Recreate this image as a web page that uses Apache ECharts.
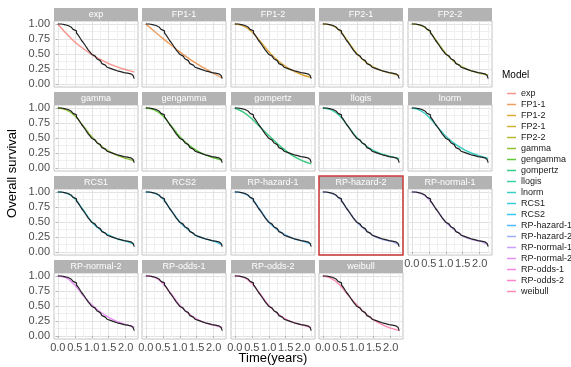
<!DOCTYPE html>
<html>
<head>
<meta charset="utf-8">
<script src="https://cdn.jsdelivr.net/npm/echarts@6/dist/echarts.min.js"></script>
<style>
  html, body { margin: 0; padding: 0; background: #fff; }
  #chart { width: 571px; height: 367px; }
</style>
</head>
<body>
<div id="chart"></div>
<script>
// models, in facet / legend order
const models = ['exp', 'FP1-1', 'FP1-2', 'FP2-1', 'FP2-2', 'gamma', 'gengamma', 'gompertz', 'llogis', 'lnorm',
  'RCS1', 'RCS2', 'RP-hazard-1', 'RP-hazard-2', 'RP-normal-1', 'RP-normal-2', 'RP-odds-1', 'RP-odds-2', 'weibull']

// Kaplan-Meier estimate (black line, same in every facet)
const kmTime = [0, 0.05, 0.1, 0.15, 0.2, 0.25, 0.3, 0.35, 0.4, 0.45, 0.5, 0.55, 0.6, 0.65, 0.7, 0.75, 0.8, 0.85, 0.9, 0.95,
  1.0, 1.05, 1.1, 1.15, 1.2, 1.25, 1.3, 1.35, 1.4, 1.45, 1.5, 1.55, 1.6, 1.65, 1.7, 1.75, 1.8, 1.85, 1.9, 1.95,
  2.0, 2.05, 2.1, 2.15, 2.18, 2.22, 2.25]
const kmSurv = [1, 1, 0.995, 0.99, 0.985, 0.975, 0.96, 0.945, 0.93, 0.91, 0.885, 0.85, 0.815, 0.77, 0.725, 0.69, 0.65, 0.605, 0.565, 0.53,
  0.495, 0.465, 0.445, 0.42, 0.39, 0.365, 0.34, 0.315, 0.3, 0.28, 0.26, 0.245, 0.24, 0.225, 0.22, 0.21, 0.205, 0.195, 0.19, 0.185,
  0.18, 0.175, 0.17, 0.165, 0.14, 0.115, 0.09]

// fitted survival of each model, at modelTime
const modelTime = [0, 0.25, 0.5, 0.75, 1.0, 1.25, 1.5, 1.75, 2.0, 2.25]
const expSurv = [1.00, 0.84, 0.70, 0.59, 0.49, 0.41, 0.34, 0.285, 0.24, 0.20]
const fp11Surv = [1.00, 0.88, 0.76, 0.645, 0.535, 0.43, 0.34, 0.255, 0.175, 0.10]
const fp12Surv = [1.00, 0.97, 0.87, 0.71, 0.54, 0.40, 0.29, 0.21, 0.15, 0.11]
const fp21Surv = [1.00, 0.98, 0.89, 0.70, 0.51, 0.37, 0.28, 0.22, 0.18, 0.14]
const fp22Surv = [1.00, 0.98, 0.89, 0.70, 0.51, 0.37, 0.28, 0.22, 0.18, 0.15]
const gammaSurv = [1.00, 0.97, 0.87, 0.70, 0.52, 0.38, 0.28, 0.21, 0.16, 0.12]
const gengammaSurv = [1.00, 0.97, 0.87, 0.70, 0.52, 0.39, 0.29, 0.22, 0.17, 0.13]
const gompertzSurv = [1.00, 0.93, 0.82, 0.68, 0.54, 0.41, 0.29, 0.19, 0.12, 0.07]
const llogisSurv = [1.00, 0.97, 0.87, 0.69, 0.51, 0.38, 0.29, 0.23, 0.19, 0.16]
const lnormSurv = [1.00, 0.96, 0.85, 0.69, 0.53, 0.41, 0.32, 0.25, 0.20, 0.16]
const rcs1Surv = [1.00, 0.98, 0.89, 0.70, 0.50, 0.37, 0.28, 0.22, 0.18, 0.13]
const rcs2Surv = [1.00, 0.98, 0.89, 0.69, 0.50, 0.37, 0.27, 0.22, 0.18, 0.12]
const rpHazard1Surv = [1.00, 0.98, 0.89, 0.70, 0.50, 0.37, 0.28, 0.22, 0.18, 0.13]
const rpHazard2Surv = [1.00, 0.98, 0.89, 0.69, 0.50, 0.37, 0.27, 0.21, 0.18, 0.12]
const rpNormal1Surv = [1.00, 0.98, 0.88, 0.69, 0.50, 0.37, 0.27, 0.21, 0.18, 0.12]
const rpNormal2Surv = [1.00, 0.97, 0.85, 0.67, 0.52, 0.40, 0.31, 0.24, 0.19, 0.15]
const rpOdds1Surv = [1.00, 0.98, 0.88, 0.70, 0.51, 0.38, 0.28, 0.22, 0.18, 0.14]
const rpOdds2Surv = [1.00, 0.98, 0.88, 0.70, 0.51, 0.38, 0.28, 0.22, 0.18, 0.14]
const weibullSurv = [1.00, 0.96, 0.85, 0.68, 0.52, 0.38, 0.27, 0.19, 0.13, 0.09]

const modelSurv = [expSurv, fp11Surv, fp12Surv, fp21Surv, fp22Surv, gammaSurv, gengammaSurv, gompertzSurv, llogisSurv,
  lnormSurv, rcs1Surv, rcs2Surv, rpHazard1Surv, rpHazard2Surv, rpNormal1Surv, rpNormal2Surv, rpOdds1Surv, rpOdds2Surv, weibullSurv]

// tick labels
const xTicks = [0, 0.5, 1, 1.5, 2]
const xMinorTicks = [0.25, 0.75, 1.25, 1.75, 2.25]
const yTicks = [0, 0.25, 0.5, 0.75, 1]
const yMinorTicks = [0.125, 0.375, 0.625, 0.875]

// ggplot hue palette (19 levels)
const colors = ['#F8766D', '#EA8331', '#D69100', '#C09B00', '#9EA700', '#70B000', '#33B800', '#00BD62', '#00C08E',
  '#00C0B2', '#00BCD6', '#00B5EE', '#24A7FF', '#7E96FF', '#BC82FF', '#E26EF5', '#F763DF', '#FF62C0', '#FD6A98']

const fade = (hex, a) => {
  const n = parseInt(hex.slice(1), 16)
  return `rgba(${(n >> 16) & 255},${(n >> 8) & 255},${n & 255},${a})`
}

const FONT = 'Liberation Sans, Arial, sans-serif'
const colX = [54, 142, 231, 319, 408]
const rowY = [8, 92, 176, 260]
const panelW = 84
const stripH = 13
const panelH = 66
const xMin = -0.1125
const xMax = 2.3625
const yMin = -0.05
const yMax = 1.05

const grids = []
const xAxes = []
const yAxes = []
const series = []
const graphics = []

models.forEach((name, i) => {
  const r = Math.floor(i / 5)
  const c = i % 5
  const left = colX[c]
  const top = rowY[r] + stripH
  const showX = r === 3 || (r === 2 && c === 4)
  const showY = c === 0

  grids.push({
    left, top, width: panelW, height: panelH,
    show: true, backgroundColor: '#fff', borderColor: '#c4c4c4', borderWidth: 1,
    outerBoundsMode: 'none',
  })

  xAxes.push({
    gridIndex: i, type: 'value', min: xMin, max: xMax, position: 'bottom',
    axisLine: { show: false },
    axisTick: { show: showX, length: 2, customValues: xTicks, lineStyle: { color: '#b3b3b3' } },
    axisLabel: {
      show: showX, customValues: xTicks, margin: 3, fontSize: 11, color: '#4d4d4d', fontFamily: FONT,
      formatter: (v) => v.toFixed(1),
    },
    splitLine: { show: true, lineStyle: { color: '#e2e2e2', width: 1 } },
  })
  xAxes.push({
    gridIndex: i, type: 'value', min: xMin, max: xMax, position: 'bottom',
    axisLine: { show: false },
    axisTick: { show: false, customValues: xMinorTicks },
    axisLabel: { show: false, customValues: xMinorTicks },
    splitLine: { show: true, lineStyle: { color: '#f0f0f0', width: 1 } },
  })
  yAxes.push({
    gridIndex: i, type: 'value', min: yMin, max: yMax,
    axisLine: { show: false },
    axisTick: { show: showY, length: 2, customValues: yTicks, lineStyle: { color: '#b3b3b3' } },
    axisLabel: {
      show: showY, customValues: yTicks, margin: 4, fontSize: 11, color: '#4d4d4d', fontFamily: FONT,
      formatter: (v) => v.toFixed(2),
    },
    splitLine: { show: true, lineStyle: { color: '#e2e2e2', width: 1 } },
  })
  yAxes.push({
    gridIndex: i, type: 'value', min: yMin, max: yMax,
    axisLine: { show: false },
    axisTick: { show: false, customValues: yMinorTicks },
    axisLabel: { show: false, customValues: yMinorTicks },
    splitLine: { show: true, lineStyle: { color: '#f0f0f0', width: 1 } },
  })

  const col = fade(colors[i], 0.78)
  series.push({
    name, type: 'line', xAxisIndex: 2 * i, yAxisIndex: 2 * i,
    data: modelTime.map((t, k) => [t, modelSurv[i][k]]),
    showSymbol: false, smooth: 0.35, silent: true, z: 2,
    itemStyle: { color: col },
    lineStyle: { color: col, width: 1.4 },
  })
  series.push({
    name: 'KM', type: 'line', xAxisIndex: 2 * i, yAxisIndex: 2 * i,
    data: kmTime.map((t, k) => [t, kmSurv[k]]),
    showSymbol: false, step: 'end', silent: true, z: 3,
    itemStyle: { color: '#222' },
    lineStyle: { color: '#222', width: 1.2 },
  })

  // facet strip
  graphics.push({
    type: 'rect', silent: true,
    shape: { x: left, y: rowY[r], width: panelW, height: stripH },
    style: { fill: '#b3b3b3' },
  })
  graphics.push({
    type: 'text', silent: true,
    x: left + panelW / 2, y: rowY[r] + stripH / 2 + 0.5,
    style: { text: name, fill: '#fff', font: `9px ${FONT}`, align: 'center', verticalAlign: 'middle' },
  })
})

// highlighted facet
graphics.push({
  type: 'rect', silent: true, z: 100,
  shape: { x: colX[3], y: rowY[2], width: panelW, height: stripH + panelH },
  style: { fill: 'none', stroke: '#cc3a3a', lineWidth: 1.5 },
})
// axis titles
graphics.push({
  type: 'text', silent: true,
  x: 12, y: (rowY[0] + rowY[3] + stripH + panelH) / 2, rotation: Math.PI / 2,
  style: { text: 'Overall survival', fill: '#000', font: `13px ${FONT}`, align: 'center', verticalAlign: 'middle' },
})
graphics.push({
  type: 'text', silent: true,
  x: (colX[0] + colX[4] + panelW) / 2, y: 358,
  style: { text: 'Time(years)', fill: '#000', font: `13px ${FONT}`, align: 'center', verticalAlign: 'middle' },
})
graphics.push({
  type: 'text', silent: true,
  x: 502, y: 75,
  style: { text: 'Model', fill: '#000', font: `10px ${FONT}`, align: 'left', verticalAlign: 'middle' },
})

const chart = echarts.init(document.getElementById('chart'), null, { renderer: 'canvas' })
chart.setOption({
  animation: false,
  backgroundColor: '#fff',
  grid: grids,
  xAxis: xAxes,
  yAxis: yAxes,
  series,
  graphic: graphics,
  legend: {
    data: models,
    orient: 'vertical',
    left: 502,
    top: 84,
    icon: 'rect',
    itemWidth: 9,
    itemHeight: 1.5,
    itemGap: 2,
    selectedMode: false,
    textStyle: { fontSize: 9, color: '#1a1a1a', fontFamily: FONT, padding: [0, 0, 0, 0] },
  },
})
</script>
</body>
</html>
